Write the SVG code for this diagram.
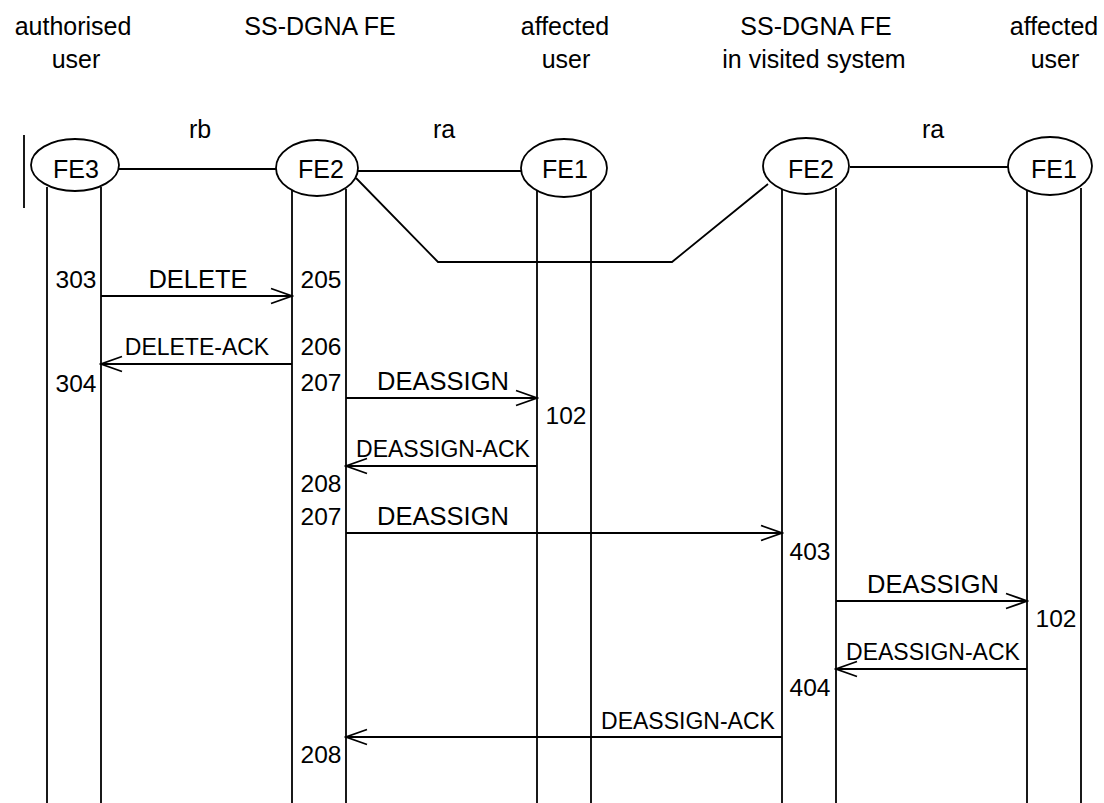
<svg xmlns="http://www.w3.org/2000/svg" width="1104" height="803" viewBox="0 0 1104 803">
<style>
text{font-family:"Liberation Sans",Arial,sans-serif;fill:#000}
.hd{font-size:25px;text-anchor:middle}
.fe{font-size:25px;text-anchor:middle}
.msg{font-size:25.5px;text-anchor:middle}
.ack{font-size:23px;text-anchor:middle}
.num{font-size:24.5px;text-anchor:middle}
.ln{stroke:#000;stroke-width:1.8;fill:none}
.el{stroke:#000;stroke-width:1.8;fill:#fff}
.ar{stroke:#000;stroke-width:1.8;fill:none;marker-end:url(#ah)}
</style>
<defs>
<marker id="ah" markerUnits="userSpaceOnUse" markerWidth="24" markerHeight="18" viewBox="0 0 24 18" refX="22" refY="9" orient="auto">
<path d="M1,1.5 L22,9 L1,16.5" fill="none" stroke="#000" stroke-width="1.8"/>
</marker>
</defs>
<rect width="1104" height="803" fill="#fff"/>
<g id="headers">
<text class="hd" x="73" y="35">authorised</text>
<text class="hd" x="76" y="68">user</text>
<text class="hd" x="320" y="35">SS-DGNA FE</text>
<text class="hd" x="565" y="35">affected</text>
<text class="hd" x="566" y="68">user</text>
<text class="hd" x="816" y="35">SS-DGNA FE</text>
<text class="hd" x="814" y="68">in visited system</text>
<text class="hd" x="1054" y="35">affected</text>
<text class="hd" x="1055" y="68">user</text>
</g>
<g id="relations">
<line class="ln" x1="24" y1="135" x2="24" y2="208"/>
<line class="ln" x1="119" y1="169" x2="276" y2="169"/>
<line class="ln" x1="358" y1="171" x2="521" y2="171"/>
<line class="ln" x1="850" y1="167" x2="1008" y2="167"/>
<polyline class="ln" points="356,178 438,262 672,262 768,184"/>
<text class="fe" x="200" y="138">rb</text>
<text class="fe" x="444" y="138">ra</text>
<text class="fe" x="933" y="138">ra</text>
</g>
<g id="lifelines">
<line class="ln" x1="47" y1="187" x2="47" y2="803"/>
<line class="ln" x1="101" y1="187" x2="101" y2="803"/>
<line class="ln" x1="292" y1="189" x2="292" y2="803"/>
<line class="ln" x1="346" y1="189" x2="346" y2="803"/>
<line class="ln" x1="537" y1="190" x2="537" y2="803"/>
<line class="ln" x1="591" y1="190" x2="591" y2="803"/>
<line class="ln" x1="782" y1="188" x2="782" y2="803"/>
<line class="ln" x1="836" y1="188" x2="836" y2="803"/>
<line class="ln" x1="1027" y1="188" x2="1027" y2="803"/>
<line class="ln" x1="1081" y1="188" x2="1081" y2="803"/>
</g>
<g id="node-fe3-auth">
<ellipse class="el" cx="75" cy="165" rx="44" ry="26"/>
<text class="fe" x="76" y="178">FE3</text>
</g>
<g id="node-fe2-home">
<ellipse class="el" cx="317" cy="168" rx="41" ry="28"/>
<text class="fe" x="321" y="178">FE2</text>
</g>
<g id="node-fe1-affected">
<ellipse class="el" cx="564" cy="168" rx="43" ry="29"/>
<text class="fe" x="565" y="178">FE1</text>
</g>
<g id="node-fe2-visited">
<ellipse class="el" cx="806" cy="166" rx="43" ry="28"/>
<text class="fe" x="811" y="178">FE2</text>
</g>
<g id="node-fe1-visited">
<ellipse class="el" cx="1050" cy="166" rx="42" ry="29"/>
<text class="fe" x="1054" y="178">FE1</text>
</g>
<g id="connectors">
<line class="ar" x1="101" y1="296" x2="292" y2="296"/>
<line class="ar" x1="292" y1="364" x2="101" y2="364"/>
<line class="ar" x1="346" y1="398" x2="537" y2="398"/>
<line class="ar" x1="537" y1="466" x2="346" y2="466"/>
<line class="ar" x1="346" y1="533" x2="782" y2="533"/>
<line class="ar" x1="836" y1="601" x2="1027" y2="601"/>
<line class="ar" x1="1027" y1="669" x2="836" y2="669"/>
<line class="ar" x1="782" y1="737" x2="346" y2="737"/>
<text class="msg" x="198" y="288">DELETE</text>
<text class="ack" x="197" y="355">DELETE-ACK</text>
<text class="msg" x="443" y="390">DEASSIGN</text>
<text class="ack" x="443" y="457">DEASSIGN-ACK</text>
<text class="msg" x="443" y="525">DEASSIGN</text>
<text class="msg" x="933" y="593">DEASSIGN</text>
<text class="ack" x="933" y="660">DEASSIGN-ACK</text>
<text class="ack" x="688" y="729">DEASSIGN-ACK</text>
</g>
<g id="state-numbers">
<text class="num" x="76" y="288">303</text>
<text class="num" x="321" y="288">205</text>
<text class="num" x="321" y="355">206</text>
<text class="num" x="76" y="392">304</text>
<text class="num" x="321" y="391">207</text>
<text class="num" x="566" y="424">102</text>
<text class="num" x="321" y="492">208</text>
<text class="num" x="321" y="525">207</text>
<text class="num" x="810" y="560">403</text>
<text class="num" x="1056" y="627">102</text>
<text class="num" x="810" y="696">404</text>
<text class="num" x="321" y="763">208</text>
</g>
</svg>
